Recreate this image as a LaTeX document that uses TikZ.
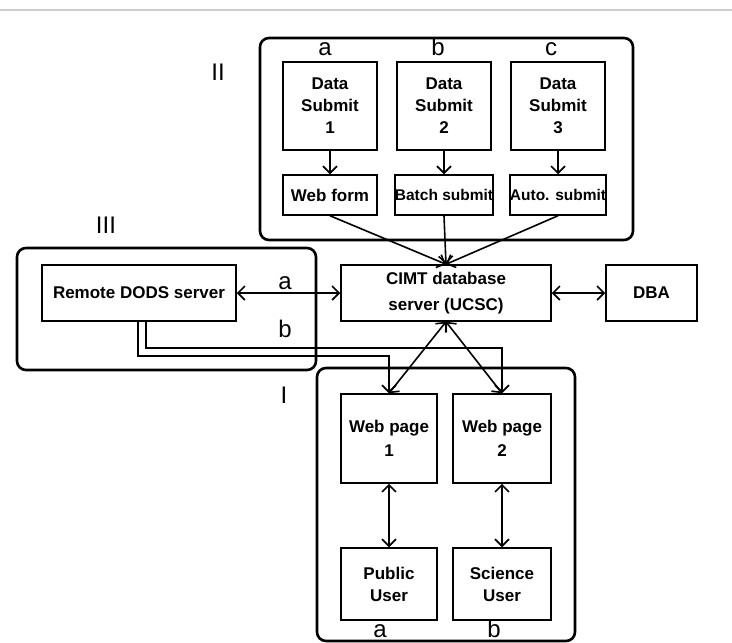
\documentclass[tikz,border=0pt]{standalone}
\usepackage{fontspec}
\setmainfont{Liberation Sans}
\usetikzlibrary{arrows.meta}
\begin{document}
\begin{tikzpicture}[x=1pt,y=-1pt,
  box/.style={draw, line width=1.5pt, inner sep=0pt, align=center, font=\fontsize{17}{22}\selectfont\bfseries},
  smallbox/.style={box, font=\fontsize{15.5}{20}\selectfont\bfseries},
  grp/.style={draw, line width=2.6pt, rounded corners=9pt},
  lbl/.style={anchor=base, inner sep=0pt, font=\fontsize{24}{24}\selectfont},
  con/.style={line width=1.6pt, >={Straight Barb[length=7pt,width=14pt]}},
]
\fill[white] (0,0) rectangle (732,643);
\useasboundingbox (0,0) rectangle (732,643);
\draw[black!20, line width=2pt] (0,10) -- (732,10);

% group frames
\draw[grp] (260,38) rectangle (633,240);
\draw[grp] (17,248) rectangle (316,370);
\draw[grp] (317,368) rectangle (575,641);

% group labels
\node[lbl] (lII) at (218,80) {II};
\node[lbl] (lIII) at (106,233) {III};
\node[lbl] (lI) at (284,403) {I};
\node[lbl] (ta) at (325,55) {a};
\node[lbl] (tb) at (438,55) {b};
\node[lbl] (tc) at (551,55) {c};
\node[lbl] (ba) at (380,637) {a};
\node[lbl] (bb) at (494,637) {b};
\node[lbl] (ma) at (285,289) {a};
\node[lbl] (mb) at (285,337) {b};

% group II
\node[box, minimum width=94pt, minimum height=88pt] (ds1) at (330,106) {Data\\Submit\\1};
\node[box, minimum width=94pt, minimum height=88pt] (ds2) at (444,106) {Data\\Submit\\2};
\node[box, minimum width=94pt, minimum height=88pt] (ds3) at (558,106) {Data\\Submit\\3};
\node[box, minimum width=94pt, minimum height=40pt] (wf1) at (330,195) {Web form};
\node[smallbox, minimum width=94pt, minimum height=40pt] (wf2) at (444,195) {Batch submit};
\node[smallbox, minimum width=94pt, minimum height=40pt] (wf3) at (558,195) {Auto. submit};

% middle row
\node[box, minimum width=194pt, minimum height=56pt] (dods) at (139,293) {Remote DODS server};
\node[box, minimum width=210pt, minimum height=56pt] (cimt) at (446,293) {CIMT database\\[4pt]server (UCSC)};
\node[box, minimum width=91pt, minimum height=56pt] (dba) at (651.5,293) {DBA};

% group I
\node[box, minimum width=96pt, minimum height=89pt] (wp1) at (389,438.5) {Web page\\[2pt]1};
\node[box, minimum width=98pt, minimum height=89pt] (wp2) at (502,438.5) {Web page\\[2pt]2};
\node[box, minimum width=96pt, minimum height=72pt] (pu) at (389,584) {Public\\User};
\node[box, minimum width=98pt, minimum height=72pt] (su) at (502,584) {Science\\User};

% connectors
\draw[con,->] (ds1) -- (wf1);
\draw[con,->] (ds2) -- (wf2);
\draw[con,->] (ds3) -- (wf3);
\draw[con,->] (wf1.south) -- (cimt.north);
\draw[con,->] (wf2.south) -- (cimt.north);
\draw[con,->] (wf3.south) -- (cimt.north);
\draw[con,<->] (dods) -- (cimt);
\draw[con,<->] (cimt) -- (dba);
\draw[con,<->] (cimt.south) -- (wp1.north);
\draw[con,<->] (cimt.south) -- (wp2.north);
\draw[con,->] ([xshift=7pt]dods.south) -- ++(0,26) -| (wp2.north);
\draw[con,->] ([xshift=-1pt]dods.south) -- ++(0,34) -| (wp1.north);
\draw[con,<->] (wp1) -- (pu);
\draw[con,<->] (wp2) -- (su);
\end{tikzpicture}
\end{document}
